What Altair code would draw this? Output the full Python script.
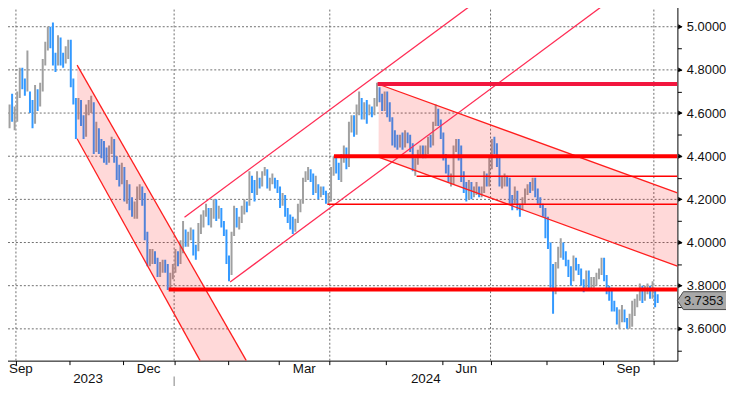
import altair as alt
import pandas as pd

# plot area in page pixels: x 0..683, y 0..362 (negative padding cancels the 8px page margin)
W, H = 683, 362
FONT = "Liberation Sans"

# ---------------- daily high / low / close (yield, %) ----------------
sep23_days = [22, 25, 26, 27, 28, 29]
sep23_high = [4.50, 4.56, 4.57, 4.64, 4.69, 4.63]
sep23_low = [4.40, 4.43, 4.50, 4.53, 4.56, 4.52]
sep23_close = [4.43, 4.54, 4.55, 4.61, 4.57, 4.57]

oct23_days = [2, 3, 4, 5, 6, 10, 11, 12, 13, 16, 17, 18, 19, 20, 23, 24, 25, 26, 27, 30, 31]
oct23_high = [4.70, 4.81, 4.81, 4.76, 4.89, 4.70, 4.66, 4.73, 4.71, 4.74, 4.85, 4.93, 5.00, 5.00, 5.02, 4.88, 4.96, 4.95, 4.88, 4.91, 4.94]
oct23_low = [4.56, 4.67, 4.71, 4.68, 4.70, 4.60, 4.53, 4.55, 4.61, 4.63, 4.70, 4.82, 4.89, 4.90, 4.82, 4.79, 4.82, 4.82, 4.81, 4.83, 4.85]
oct23_close = [4.68, 4.80, 4.73, 4.72, 4.78, 4.65, 4.56, 4.70, 4.63, 4.71, 4.83, 4.91, 4.99, 4.91, 4.84, 4.83, 4.95, 4.84, 4.83, 4.88, 4.93]

nov23_days = [1, 2, 3, 6, 7, 8, 9, 10, 13, 14, 15, 16, 17, 20, 21, 22, 24, 27, 28, 29, 30]
nov23_high = [4.94, 4.76, 4.67, 4.67, 4.66, 4.59, 4.64, 4.66, 4.68, 4.65, 4.56, 4.53, 4.48, 4.47, 4.44, 4.45, 4.49, 4.48, 4.40, 4.36, 4.37]
nov23_low = [4.72, 4.64, 4.48, 4.57, 4.54, 4.48, 4.49, 4.59, 4.60, 4.41, 4.42, 4.41, 4.39, 4.37, 4.36, 4.37, 4.41, 4.37, 4.29, 4.26, 4.27]
nov23_close = [4.73, 4.66, 4.57, 4.64, 4.57, 4.49, 4.63, 4.63, 4.64, 4.44, 4.53, 4.45, 4.44, 4.42, 4.40, 4.41, 4.47, 4.39, 4.33, 4.28, 4.33]

dec23_days = [1, 4, 5, 6, 7, 8, 11, 12, 13, 14, 15, 18, 19, 20, 21, 22, 26, 27, 28, 29]
dec23_high = [4.35, 4.29, 4.27, 4.21, 4.19, 4.26, 4.27, 4.26, 4.23, 4.05, 3.97, 3.97, 3.96, 3.93, 3.91, 3.92, 3.92, 3.90, 3.86, 3.90]
dec23_low = [4.19, 4.18, 4.15, 4.12, 4.11, 4.11, 4.20, 4.17, 4.01, 3.89, 3.89, 3.90, 3.90, 3.84, 3.84, 3.86, 3.86, 3.78, 3.78, 3.83]
dec23_close = [4.20, 4.26, 4.17, 4.13, 4.13, 4.23, 4.23, 4.20, 4.02, 3.91, 3.91, 3.95, 3.92, 3.85, 3.89, 3.90, 3.89, 3.79, 3.84, 3.88]

jan24_days = [2, 3, 4, 5, 8, 9, 10, 11, 12, 16, 17, 18, 19, 22, 23, 24, 25, 26, 29, 30, 31]
jan24_high = [3.97, 3.96, 4.01, 4.10, 4.06, 4.05, 4.07, 4.06, 3.99, 4.09, 4.13, 4.15, 4.18, 4.16, 4.16, 4.20, 4.20, 4.17, 4.16, 4.10, 4.06]
jan24_low = [3.86, 3.89, 3.90, 3.95, 3.98, 3.98, 4.01, 3.94, 3.92, 3.96, 4.04, 4.07, 4.12, 4.08, 4.07, 4.11, 4.10, 4.11, 4.07, 4.03, 3.90]
jan24_close = [3.94, 3.91, 3.99, 4.05, 4.01, 4.02, 4.04, 3.97, 3.94, 4.07, 4.10, 4.14, 4.15, 4.11, 4.14, 4.18, 4.13, 4.15, 4.08, 4.06, 3.91]

feb24_days = [1, 2, 5, 6, 7, 8, 9, 12, 13, 14, 15, 16, 20, 21, 22, 23, 26, 27, 28, 29]
feb24_high = [3.94, 4.05, 4.17, 4.16, 4.12, 4.17, 4.20, 4.19, 4.33, 4.31, 4.29, 4.33, 4.30, 4.33, 4.35, 4.34, 4.30, 4.32, 4.30, 4.29]
feb24_low = [3.82, 3.85, 4.03, 4.07, 4.06, 4.09, 4.13, 4.14, 4.17, 4.23, 4.19, 4.22, 4.25, 4.26, 4.31, 4.25, 4.24, 4.27, 4.25, 4.23]
feb24_close = [3.87, 4.03, 4.16, 4.09, 4.10, 4.15, 4.18, 4.17, 4.31, 4.25, 4.24, 4.28, 4.27, 4.32, 4.33, 4.25, 4.28, 4.31, 4.27, 4.25]

mar24_days = [1, 4, 5, 6, 7, 8, 11, 12, 13, 14, 15, 18, 19, 20, 21, 22, 25, 26, 27, 28]
mar24_high = [4.26, 4.23, 4.22, 4.16, 4.13, 4.12, 4.11, 4.18, 4.20, 4.30, 4.33, 4.35, 4.34, 4.32, 4.31, 4.27, 4.26, 4.26, 4.24, 4.23]
mar24_low = [4.16, 4.17, 4.12, 4.09, 4.06, 4.04, 4.05, 4.09, 4.14, 4.18, 4.28, 4.29, 4.28, 4.22, 4.23, 4.20, 4.21, 4.22, 4.18, 4.18]
mar24_close = [4.18, 4.22, 4.14, 4.11, 4.08, 4.07, 4.10, 4.15, 4.19, 4.29, 4.31, 4.34, 4.30, 4.27, 4.27, 4.22, 4.25, 4.23, 4.19, 4.20]

apr24_days = [1, 2, 3, 4, 5, 8, 9, 10, 11, 12, 15, 16, 17, 18, 19, 22, 23, 24, 25, 26, 29, 30]
apr24_high = [4.35, 4.40, 4.40, 4.37, 4.41, 4.45, 4.44, 4.56, 4.59, 4.59, 4.64, 4.70, 4.67, 4.65, 4.66, 4.64, 4.63, 4.67, 4.74, 4.72, 4.69, 4.70]
apr24_low = [4.19, 4.31, 4.32, 4.29, 4.28, 4.37, 4.34, 4.35, 4.51, 4.49, 4.50, 4.59, 4.57, 4.57, 4.55, 4.59, 4.58, 4.59, 4.63, 4.65, 4.61, 4.61]
apr24_close = [4.33, 4.36, 4.35, 4.31, 4.39, 4.42, 4.36, 4.55, 4.59, 4.52, 4.63, 4.67, 4.59, 4.64, 4.62, 4.62, 4.60, 4.65, 4.70, 4.67, 4.62, 4.69]

may24_days = [1, 2, 3, 6, 7, 8, 9, 10, 13, 14, 15, 16, 17, 20, 21, 22, 23, 24, 28, 29, 30, 31]
may24_high = [4.70, 4.65, 4.58, 4.52, 4.50, 4.50, 4.51, 4.52, 4.51, 4.50, 4.46, 4.39, 4.43, 4.45, 4.45, 4.45, 4.49, 4.50, 4.56, 4.64, 4.62, 4.57]
may24_low = [4.58, 4.56, 4.45, 4.44, 4.43, 4.44, 4.43, 4.44, 4.46, 4.42, 4.33, 4.31, 4.36, 4.40, 4.39, 4.39, 4.41, 4.44, 4.45, 4.54, 4.54, 4.48]
may24_close = [4.63, 4.58, 4.50, 4.49, 4.46, 4.49, 4.46, 4.50, 4.49, 4.45, 4.35, 4.38, 4.42, 4.44, 4.41, 4.43, 4.48, 4.47, 4.55, 4.62, 4.56, 4.50]

jun24_days = [3, 4, 5, 6, 7, 10, 11, 12, 13, 14, 17, 18, 20, 21, 24, 25, 26, 27, 28]
jun24_high = [4.51, 4.41, 4.36, 4.32, 4.45, 4.48, 4.48, 4.45, 4.33, 4.28, 4.29, 4.28, 4.26, 4.28, 4.26, 4.26, 4.33, 4.32, 4.40]
jun24_low = [4.38, 4.32, 4.28, 4.26, 4.27, 4.42, 4.38, 4.28, 4.23, 4.19, 4.20, 4.20, 4.21, 4.22, 4.21, 4.21, 4.23, 4.26, 4.26]
jun24_close = [4.40, 4.33, 4.29, 4.29, 4.43, 4.47, 4.40, 4.31, 4.24, 4.20, 4.28, 4.22, 4.25, 4.26, 4.23, 4.24, 4.32, 4.29, 4.36]

jul24_days = [1, 2, 3, 5, 8, 9, 10, 11, 12, 15, 16, 17, 18, 19, 22, 23, 24, 25, 26, 29, 30, 31]
jul24_high = [4.48, 4.49, 4.46, 4.40, 4.31, 4.32, 4.31, 4.30, 4.22, 4.26, 4.24, 4.18, 4.21, 4.25, 4.27, 4.28, 4.30, 4.30, 4.25, 4.21, 4.18, 4.16]
jul24_low = [4.34, 4.41, 4.35, 4.26, 4.25, 4.26, 4.26, 4.18, 4.15, 4.18, 4.15, 4.12, 4.15, 4.18, 4.22, 4.23, 4.24, 4.21, 4.18, 4.16, 4.12, 4.02]
jul24_close = [4.47, 4.43, 4.36, 4.28, 4.28, 4.30, 4.28, 4.20, 4.19, 4.23, 4.16, 4.15, 4.20, 4.24, 4.26, 4.25, 4.28, 4.24, 4.20, 4.17, 4.14, 4.03]

aug24_days = [1, 2, 5, 6, 7, 8, 9, 12, 13, 14, 15, 16, 19, 20, 21, 22, 23, 26, 27, 28, 29, 30]
aug24_high = [4.12, 4.00, 3.90, 3.91, 3.98, 4.02, 4.00, 3.96, 3.92, 3.89, 3.94, 3.93, 3.90, 3.88, 3.83, 3.87, 3.87, 3.84, 3.84, 3.86, 3.88, 3.93]
aug24_low = [3.97, 3.79, 3.67, 3.76, 3.88, 3.93, 3.92, 3.89, 3.84, 3.80, 3.82, 3.87, 3.85, 3.80, 3.77, 3.79, 3.78, 3.78, 3.79, 3.80, 3.83, 3.85]
aug24_close = [3.98, 3.79, 3.78, 3.90, 3.96, 3.99, 3.94, 3.90, 3.85, 3.83, 3.92, 3.89, 3.87, 3.81, 3.80, 3.86, 3.80, 3.82, 3.83, 3.84, 3.87, 3.91]

sep24_days = [3, 4, 5, 6, 9, 10, 11, 12, 13, 16, 17, 18, 19, 20, 23, 24, 25, 26, 27, 30]
sep24_high = [3.93, 3.85, 3.80, 3.79, 3.73, 3.70, 3.69, 3.71, 3.69, 3.65, 3.67, 3.73, 3.74, 3.76, 3.81, 3.80, 3.80, 3.81, 3.80, 3.82]
sep24_low = [3.82, 3.76, 3.73, 3.68, 3.68, 3.62, 3.60, 3.63, 3.63, 3.60, 3.60, 3.61, 3.66, 3.70, 3.73, 3.72, 3.73, 3.76, 3.74, 3.74]
sep24_close = [3.84, 3.77, 3.73, 3.72, 3.70, 3.65, 3.65, 3.68, 3.65, 3.62, 3.64, 3.70, 3.73, 3.73, 3.79, 3.74, 3.78, 3.79, 3.75, 3.78]

oct24_days = [1, 2]
oct24_high = [3.78, 3.76]
oct24_low = [3.70, 3.72]
oct24_close = [3.74, 3.7353]

last_value = 3.7353

months = [
    ("2023-09", sep23_days, sep23_high, sep23_low, sep23_close),
    ("2023-10", oct23_days, oct23_high, oct23_low, oct23_close),
    ("2023-11", nov23_days, nov23_high, nov23_low, nov23_close),
    ("2023-12", dec23_days, dec23_high, dec23_low, dec23_close),
    ("2024-01", jan24_days, jan24_high, jan24_low, jan24_close),
    ("2024-02", feb24_days, feb24_high, feb24_low, feb24_close),
    ("2024-03", mar24_days, mar24_high, mar24_low, mar24_close),
    ("2024-04", apr24_days, apr24_high, apr24_low, apr24_close),
    ("2024-05", may24_days, may24_high, may24_low, may24_close),
    ("2024-06", jun24_days, jun24_high, jun24_low, jun24_close),
    ("2024-07", jul24_days, jul24_high, jul24_low, jul24_close),
    ("2024-08", aug24_days, aug24_high, aug24_low, aug24_close),
    ("2024-09", sep24_days, sep24_high, sep24_low, sep24_close),
    ("2024-10", oct24_days, oct24_high, oct24_low, oct24_close),
]
rows = []
for ym, ds, hs, ls, cs in months:
    for d, h, l, c in zip(ds, hs, ls, cs):
        rows.append({"ym": ym, "date": f"{ym}-{d:02d}", "high": h, "low": l, "close": c})
prev = None
for k, r in enumerate(rows):
    r["i"] = k  # trading-day slot (the x axis counts trading days)
    r["dir"] = "up" if (prev is not None and r["close"] >= prev) else "down"
    prev = r["close"]
bars = pd.DataFrame(rows)

# visible window of trading-day slots
X_MIN, X_MAX = -0.718, 264.73
SLOT_PX = W / (X_MAX - X_MIN)

# month boundaries / label anchors in trading-day units, derived from the data
first_idx = bars.groupby("ym")["i"].min()
last_idx = bars.groupby("ym")["i"].max()
month_bounds = [float(first_idx[m]) - 0.5 for m in first_idx.index if m >= "2023-10"]
quarter_bounds = [float(first_idx[m]) - 0.5 for m in ["2023-10", "2024-01", "2024-04", "2024-07", "2024-10"]]

month_label_txt = ["Sep", "Dec", "Mar", "Jun", "Sep"]
month_label_key = ["2023-09", "2023-12", "2024-03", "2024-06", "2024-09"]
# a label of a month that is only partly visible is kept inside the visible page
month_label_x = [max((first_idx[m] + last_idx[m]) / 2, X_MIN + 21 / SLOT_PX) for m in month_label_key]
jan_bound = float(first_idx["2024-01"]) - 0.5
year_label_txt = ["2023", "2024"]
year_label_x = [(float(bars["i"].min()) + jan_bound) / 2, (jan_bound + X_MAX) / 2]

# ---------------- drawn trend lines (trading-day slot, value) ----------------
chan_ids = ["A_up", "A_lo", "B_up", "B_lo", "C_up", "C_lo"]
chan_x0 = [29.48, 29.48, 71.57, 89.45, 147.63, 147.63]
chan_y0 = [4.822, 4.481, 4.1176, 3.817, 4.7335, 4.3961]
chan_x1 = [95.78, 77.67, 185.83, 237.64, 264.73, 264.73]
chan_y1 = [3.4526, 3.4526, 5.1163, 5.1163, 4.2303, 3.8902]
chan_col = ["#ff1e1e", "#ff1e1e", "#ff2d55", "#ff2d55", "#ff1e1e", "#ff1e1e"]

# shaded channels: (x, top, bottom)
shadeA_x = [29.48, 95.78]
shadeA_top = [4.822, 3.4526]
shadeA_bot = [4.481, 3.0662]
shadeC_x = [147.63, 264.73]
shadeC_top = [4.7335, 4.2303]
shadeC_bot = [4.3961, 3.8902]

# horizontal levels: start slot, value
lvl_start = [147.24, 130.14, 65.35, 162.52, 127.54]
lvl_value = [4.735, 4.40, 3.7826, 4.3075, 4.1774]
lvl_col = ["#f2163e", "#ff0000", "#ff0000", "#ff0000", "#ff0000"]
lvl_w = [4, 4, 4, 1.5, 1.5]

# ---------------- axes ----------------
y_major = [3.6, 3.8, 4.0, 4.2, 4.4, 4.6, 4.8, 5.0]
y_ticks = [3.5, 3.6, 3.7, 3.8, 3.9, 4.0, 4.1, 4.2, 4.3, 4.4, 4.5, 4.6, 4.7, 4.8, 4.9, 5.0]

xscale = alt.Scale(domain=[X_MIN, X_MAX], zero=False, nice=False)
yscale = alt.Scale(domain=[3.4527, 5.1163], zero=False, nice=False)

xaxis = alt.Axis(values=month_bounds, labels=False, ticks=True, tickSize=4,
                 tickColor="black", domainColor="black", grid=False, title=None)
yaxis = alt.Axis(orient="right", values=y_ticks, tickSize=4, tickColor="black", domainColor="black",
                 labelExpr="abs(round(datum.value*10) % 2) == 0 ? format(datum.value, '.4f') : ''",
                 labelPadding=5, labelFont=FONT, labelFontSize=13, labelColor="#111111",
                 labelOverlap=False, labelBound=False, grid=False, title=None)


def X(field):
    return alt.X(field, type="quantitative", scale=xscale, axis=xaxis)


def Y(field):
    return alt.Y(field, type="quantitative", scale=yscale, axis=yaxis)


hgrid = alt.Chart(pd.DataFrame({"v": y_major})).mark_rule(
    color="#6e6e6e", strokeDash=[2, 2], strokeWidth=1
).encode(y=Y("v"), x=alt.value(0), x2=alt.value(W))

vgrid = alt.Chart(pd.DataFrame({"q": quarter_bounds})).mark_rule(
    color="#6e6e6e", strokeDash=[2, 2], strokeWidth=1
).encode(x=X("q"), y=alt.value(0), y2=alt.value(H))

price = alt.Chart(bars).mark_rule(strokeWidth=2, clip=True).encode(
    x=X("i"),
    y=Y("low"),
    y2="high:Q",
    color=alt.Color("dir:N", scale=alt.Scale(domain=["up", "down"], range=["#a0a0a0", "#3399ff"]), legend=None),
    tooltip=["date:N", "high:Q", "low:Q", "close:Q"],
)

shadeA = alt.Chart(pd.DataFrame({"x": shadeA_x, "t": shadeA_top, "b": shadeA_bot})).mark_area(
    color="#ff0000", opacity=0.15, clip=True
).encode(x=X("x"), y=Y("t"), y2="b:Q")

shadeC = alt.Chart(pd.DataFrame({"x": shadeC_x, "t": shadeC_top, "b": shadeC_bot})).mark_area(
    color="#ff0000", opacity=0.15, clip=True
).encode(x=X("x"), y=Y("t"), y2="b:Q")

chan_rows = []
for cid, x0, y0, x1, y1, c in zip(chan_ids, chan_x0, chan_y0, chan_x1, chan_y1, chan_col):
    chan_rows.append({"id": cid, "x": x0, "v": y0, "c": c, "o": 0})
    chan_rows.append({"id": cid, "x": x1, "v": y1, "c": c, "o": 1})
channels = alt.Chart(pd.DataFrame(chan_rows)).mark_line(strokeWidth=1.3, clip=True).encode(
    x=X("x"), y=Y("v"), detail="id:N", order="o:Q", color=alt.Color("c:N", scale=None)
)

levels = alt.Chart(pd.DataFrame({"x": lvl_start, "v": lvl_value, "c": lvl_col, "w": lvl_w})).mark_rule(
    clip=True
).encode(
    x=X("x"), x2=alt.value(W), y=Y("v"),
    color=alt.Color("c:N", scale=None), strokeWidth=alt.StrokeWidth("w:Q", scale=None),
)

arrows = alt.Chart(pd.DataFrame({"v": y_major})).mark_point(
    shape="triangle-right", filled=True, color="black", size=24, opacity=1
).encode(x=alt.value(W + 3), y=Y("v"))

tag_df = pd.DataFrame({"v": [last_value], "t": [f"{last_value:.4f}"]})
tag = alt.Chart(tag_df).mark_point(
    shape="M-1,0L-0.76,-0.36L1,-0.36L1,0.36L-0.76,0.36Z", filled=True,
    fill="#a8a8a8", stroke="#4a4a4a", strokeWidth=1, size=2500, opacity=1, yOffset=1
).encode(x=alt.value(W + 25), y=Y("v"))
tag_text = alt.Chart(tag_df).mark_text(
    font=FONT, fontSize=13, color="#111111", align="center", baseline="middle", yOffset=1
).encode(x=alt.value(W + 26.5), y=Y("v"), text="t:N")

mlabels = alt.Chart(pd.DataFrame({"x": month_label_x, "t": month_label_txt})).mark_text(
    font=FONT, fontSize=13.5, color="#111111", align="center", baseline="middle"
).encode(x=X("x"), y=alt.value(H + 8), text="t:N")

ylabels = alt.Chart(pd.DataFrame({"x": year_label_x, "t": year_label_txt})).mark_text(
    font=FONT, fontSize=13.5, color="#111111", align="center", baseline="middle"
).encode(x=X("x"), y=alt.value(H + 19), text="t:N")

ybreak = alt.Chart(pd.DataFrame({"x": [jan_bound]})).mark_rule(color="#808080", strokeWidth=1).encode(
    x=X("x"), y=alt.value(H + 16), y2=alt.value(H + 26)
)

chart = alt.layer(
    hgrid, vgrid, price, shadeA, shadeC, channels, levels, arrows, tag, tag_text,
    mlabels, ylabels, ybreak
).properties(
    width=W, height=H, background="white",
    autosize=alt.AutoSizeParams(type="none"),
    padding={"left": -8, "top": -8, "right": 49, "bottom": 24},
).configure_view(stroke=None)

chart.save("out.html", embed_options={"renderer": "svg", "actions": False})
